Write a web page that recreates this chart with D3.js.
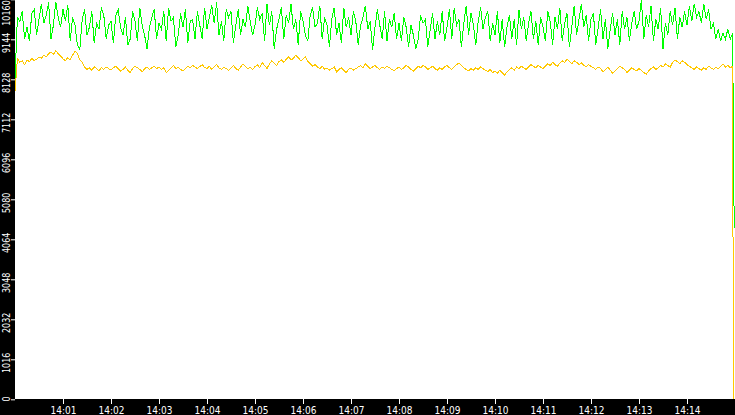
<!DOCTYPE html>
<html>
<head>
<meta charset="utf-8">
<script src="https://cdn.jsdelivr.net/npm/d3@7"></script>
<style>
  html, body { margin: 0; padding: 0; background: #000; }
  svg { display: block; }
  .axis text { fill: #fff; font-family: "DejaVu Sans", sans-serif; }
  .axis line { stroke: #fff; }
  .axis path { display: none; }
</style>
</head>
<body>
<div id="chart"></div>
<script>
// sample times: every 3 s from 14:00:00, last sample of each series is the drop
var startTime = "14:00:00";
var stepSeconds = 3;
var greenEnd = "14:14:59";
var yellowEnd = "14:14:58";

var xTickLabels = ["14:01", "14:02", "14:03", "14:04", "14:05", "14:06", "14:07",
  "14:08", "14:09", "14:10", "14:11", "14:12", "14:13", "14:14"];
var yTicks = [0, 1016, 2032, 3048, 4064, 5080, 6096, 7112, 8128, 9144, 10160];

// green series, one row per minute
var green = [
  8130, 9700, 9600, 9850, 9150, 9450, 9100, 9800, 9900, 9250, 9650, 10050, 9550, 9750, 10080, 9150, 9500, 10100, 9700, 9450,
  9900, 9600, 10020, 9100, 9700, 9500, 9000, 8880, 9650, 9900, 9250, 9450, 9850, 9050, 9550, 9400, 9950, 9750, 9150, 9500,
  9600, 9050, 9750, 9900, 9450, 9250, 9700, 9000, 9150, 9850, 9600, 9100, 9950, 9500, 9250, 8900, 9450, 9700, 9900, 9150,
  9550, 9400, 9850, 9100, 9950, 9600, 9700, 8950, 9250, 9800, 9450, 9900, 9050, 9600, 9650, 9150, 9850, 9500, 9150, 9950,
  9400, 9700, 10000, 9550, 10080, 9250, 9600, 9100, 9900, 9700, 9850, 9050, 9500, 9900, 9250, 9650, 9450, 10000, 9600, 9250,
  9500, 9950, 9650, 9800, 9100, 10050, 9500, 9850, 8900, 9400, 9650, 9950, 9150, 9750, 9550, 10050, 9400, 9650, 9000, 9850,
  9600, 9250, 9100, 9750, 9950, 9450, 9550, 10000, 9150, 9700, 9500, 8950, 9650, 9950, 9250, 9550, 9050, 9950, 9450, 9700,
  9250, 9850, 9600, 9000, 9500, 9700, 10000, 9400, 9600, 8880, 9450, 9900, 9500, 9150, 9850, 9100, 9650, 9450, 9800, 9150,
  9550, 9100, 9700, 9450, 8950, 9500, 9250, 8900, 9150, 9750, 9550, 9650, 8950, 9400, 9800, 9150, 9600, 9250, 9850, 9100,
  9450, 9900, 9150, 9950, 9500, 9650, 8950, 9550, 10000, 9250, 9800, 9500, 9000, 9600, 9950, 9400, 9700, 9850, 9100, 9550,
  9250, 9850, 9050, 9650, 8950, 9450, 9750, 9150, 9650, 9000, 9900, 9400, 9700, 9100, 9550, 9850, 9150, 9600, 9000, 9700,
  9450, 9100, 9850, 9600, 9000, 9700, 9400, 9950, 9100, 9550, 9800, 8950, 9450, 10000, 9250, 9650, 10050, 9450, 9750, 9100,
  9650, 9800, 9000, 9450, 9900, 9150, 9650, 8900, 9400, 9800, 9250, 9650, 9000, 9850, 9400, 9700, 9100, 9550, 9850, 9400,
  9600, 10150, 9150, 9750, 9450, 10000, 9100, 9650, 9400, 9950, 8900, 9550, 9250, 9850, 9500, 9950, 9150, 9700, 9450, 9850,
  9500, 10000, 9600, 10050, 9700, 9850, 9550, 10050, 9650, 9900, 9400, 9550, 9150, 9400, 9100, 9300, 9150, 9400, 9150, 9300,
  4350
];

// yellow series, one row per minute
var yellow = [
  7820, 8650, 8560, 8600, 8500, 8620, 8580, 8660, 8600, 8640, 8700, 8660, 8740, 8700, 8780, 8820, 8760, 8850, 8780, 8720,
  8650, 8600, 8680, 8620, 8740, 8840, 8780, 8620, 8560, 8440, 8380, 8420, 8360, 8450, 8400, 8340, 8420, 8380, 8440, 8400,
  8360, 8420, 8460, 8400, 8340, 8380, 8440, 8360, 8300, 8400, 8460, 8420, 8380, 8320, 8400, 8440, 8380, 8420, 8460, 8400,
  8440, 8380, 8420, 8300, 8360, 8420, 8480, 8400, 8440, 8380, 8340, 8400, 8460, 8420, 8480, 8440, 8400, 8450, 8500, 8430,
  8400, 8460, 8380, 8440, 8500, 8420, 8380, 8440, 8400, 8350, 8420, 8480, 8400, 8360, 8440, 8520, 8460, 8400, 8440, 8380,
  8450, 8500, 8420, 8560, 8480, 8400, 8520, 8600, 8540, 8480, 8580, 8620, 8560, 8640, 8700, 8620, 8660, 8740, 8680, 8600,
  8640, 8700, 8580, 8520, 8460, 8500, 8440, 8400, 8460, 8380, 8420, 8360, 8400, 8440, 8320, 8380, 8420, 8360, 8300, 8380,
  8420, 8360, 8400, 8440, 8480, 8420, 8520, 8460, 8400, 8440, 8480, 8420, 8380, 8440, 8400, 8460, 8420, 8380, 8340, 8400,
  8440, 8380, 8420, 8480, 8440, 8380, 8340, 8400, 8460, 8420, 8480, 8440, 8380, 8420, 8460, 8400, 8360, 8420, 8380, 8440,
  8480, 8420, 8380, 8440, 8500, 8540, 8480, 8420, 8380, 8340, 8400, 8360, 8420, 8380, 8440, 8400, 8360, 8320, 8380, 8300,
  8340, 8280, 8360, 8300, 8240, 8320, 8380, 8420, 8360, 8440, 8400, 8460, 8420, 8380, 8440, 8500, 8460, 8420, 8480, 8440,
  8400, 8460, 8520, 8480, 8560, 8500, 8460, 8540, 8600, 8560, 8640, 8580, 8520, 8600, 8560, 8500, 8540, 8480, 8440, 8500,
  8460, 8420, 8380, 8440, 8400, 8320, 8380, 8440, 8360, 8280, 8340, 8400, 8460, 8420, 8380, 8300, 8360, 8420, 8380, 8340,
  8400, 8360, 8300, 8260, 8340, 8400, 8440, 8380, 8420, 8480, 8440, 8520, 8480, 8440, 8560, 8620, 8580, 8520, 8600, 8560,
  8500, 8460, 8420, 8380, 8440, 8400, 8360, 8420, 8380, 8460, 8420, 8380, 8440, 8400, 8460, 8520, 8440, 8480, 8420, 8460,
  0
];

var W = 735, H = 415;
var left = 15, bottom = 399;
var parseTime = d3.timeParse("%H:%M:%S");
var parseMinute = d3.timeParse("%H:%M");
var t0 = parseTime(startTime);

function withTimes(values, endTime) {
  return values.map(function (v, i) {
    var t = i < values.length - 1 ? d3.timeSecond.offset(t0, i * stepSeconds) : parseTime(endTime);
    return [t, v];
  });
}

var x = d3.scaleTime()
  .domain([t0, parseTime("14:15:00")])
  .range([left, W]);
var y = d3.scaleLinear()
  .domain([0, 10160])
  .range([bottom + 0.3, -0.7]);

var svg = d3.select("#chart").append("svg")
  .attr("width", W)
  .attr("height", H);

svg.append("rect").attr("width", W).attr("height", H).attr("fill", "#000");
svg.append("rect")
  .attr("x", left).attr("y", 0)
  .attr("width", W - left).attr("height", bottom)
  .attr("fill", "#fff");

var line = d3.line()
  .x(function (d) { return x(d[0]); })
  .y(function (d) { return y(d[1]); });

svg.append("path")
  .datum(withTimes(green, greenEnd))
  .attr("d", line)
  .attr("fill", "none")
  .attr("stroke", "#00ff00")
  .attr("stroke-width", 1)
  .attr("shape-rendering", "crispEdges");

svg.append("path")
  .datum(withTimes(yellow, yellowEnd))
  .attr("d", line)
  .attr("fill", "none")
  .attr("stroke", "#ffc800")
  .attr("stroke-width", 1)
  .attr("shape-rendering", "crispEdges");

// x axis, labels a bit narrowed
var gx = svg.append("g")
  .attr("class", "axis")
  .attr("transform", "translate(0," + bottom + ")")
  .call(d3.axisBottom(x)
    .tickValues(xTickLabels.map(function (s) { return parseMinute(s); }))
    .tickFormat(d3.timeFormat("%H:%M"))
    .tickSize(5));
gx.selectAll("text")
  .attr("y", null)
  .attr("dy", null)
  .style("font-size", "10px")
  .attr("transform", "translate(0,15) scale(0.9,1)");

// y axis, labels rotated and condensed
var gy = svg.append("g")
  .attr("class", "axis")
  .attr("transform", "translate(" + left + ",0)")
  .call(d3.axisLeft(y).tickValues(yTicks).tickFormat(d3.format("d")).tickSize(4));
gy.selectAll("text")
  .attr("x", null)
  .attr("dy", null)
  .attr("text-anchor", "middle")
  .style("font-size", "10px")
  .attr("transform", function (d) {
    var ty = y(d);
    var half = String(d).length * 2.5;
    var c = Math.min(Math.max(ty + 3, half), bottom + 2 - half) - ty;
    return "translate(-5.5," + c + ") rotate(-90) scale(0.8,1)";
  });
</script>
</body>
</html>
